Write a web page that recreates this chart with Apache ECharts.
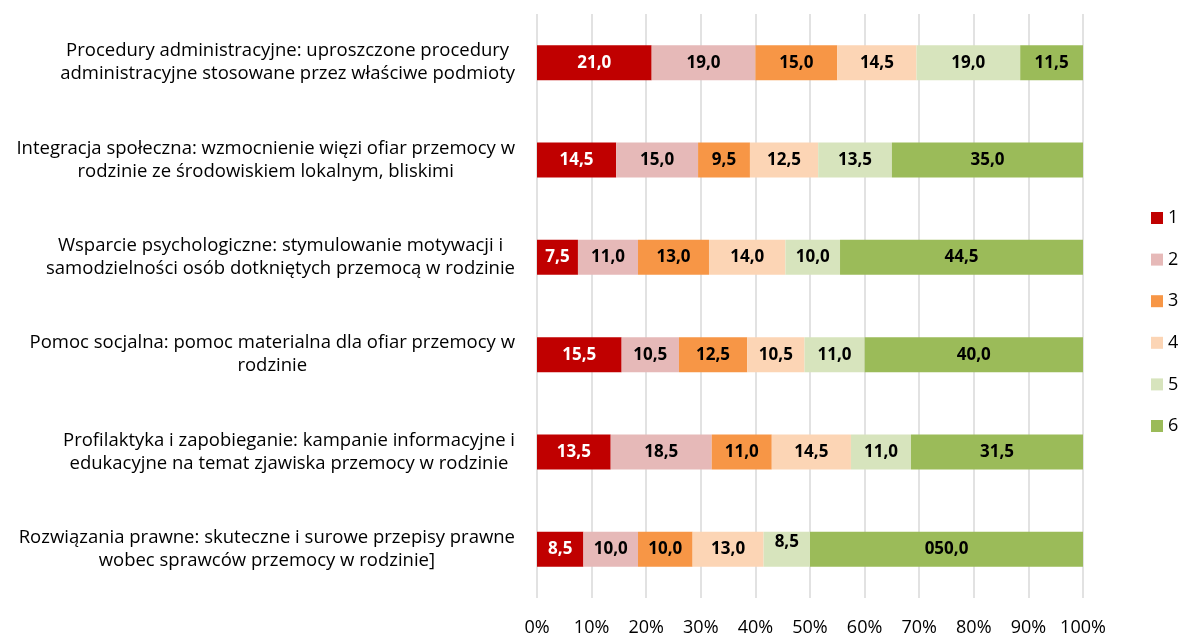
<!DOCTYPE html>
<html>
<head>
<meta charset="utf-8">
<script src="https://cdn.jsdelivr.net/npm/echarts@6/dist/echarts.min.js"></script>
<style>
  html, body { margin: 0; padding: 0; background: #fff; }
  #chart { width: 1180px; height: 637px; }
</style>
</head>
<body>
<div id="chart"></div>
<script>
// Survey items, top to bottom
const categories = [
  'Procedury administracyjne: uproszczone procedury\nadministracyjne stosowane przez właściwe podmioty',
  'Integracja społeczna: wzmocnienie więzi ofiar przemocy w\nrodzinie ze środowiskiem lokalnym, bliskimi',
  'Wsparcie psychologiczne: stymulowanie motywacji i\nsamodzielności osób dotkniętych przemocą w rodzinie',
  'Pomoc socjalna: pomoc materialna dla ofiar przemocy w\nrodzinie',
  'Profilaktyka i zapobieganie: kampanie informacyjne i\nedukacyjne na temat zjawiska przemocy w rodzinie',
  'Rozwiązania prawne: skuteczne i surowe przepisy prawne\nwobec sprawców przemocy w rodzinie]'
];

// Share of answers (%) for each rating, one array per rating
const rating1 = [21.0, 14.5, 7.5, 15.5, 13.5, 8.5];
const rating2 = [19.0, 15.0, 11.0, 10.5, 18.5, 10.0];
const rating3 = [15.0, 9.5, 13.0, 12.5, 11.0, 10.0];
const rating4 = [14.5, 12.5, 14.0, 10.5, 14.5, 13.0];
const rating5 = [19.0, 13.5, 10.0, 11.0, 11.0, 8.5];
const rating6 = [11.5, 35.0, 44.5, 40.0, 31.5, 50.0];

const seriesNames = ['1', '2', '3', '4', '5', '6'];
const xTicks = [0, 10, 20, 30, 40, 50, 60, 70, 80, 90, 100];

// Label text as printed on the last bar of the bottom row
const labelTextOverrides = { '5-5': '050,0' };

const colors = ['#C00000', '#E6B9B8', '#F79646', '#FCD5B5', '#D7E4BD', '#9BBB59'];
const values = [rating1, rating2, rating3, rating4, rating5, rating6];

const FONT = '"Open Sans", Lato, "Liberation Sans", sans-serif';

const series = values.map((arr, si) => ({
  name: seriesNames[si],
  type: 'bar',
  stack: 'total',
  barWidth: 35,
  itemStyle: { color: colors[si] },
  data: arr.map((v, ci) => {
    const item = { value: v };
    // the small "8,5" segment on the bottom row has its label lifted
    if (si === 4 && ci === 5) item.label = { offset: [0, -7] };
    return item;
  }),
  label: {
    show: true,
    position: 'inside',
    fontFamily: FONT,
    fontWeight: 'bold',
    fontSize: 17,
    color: si === 0 ? '#FFFFFF' : '#000000',
    formatter: p => labelTextOverrides[si + '-' + p.dataIndex] ||
      p.value.toFixed(1).replace('.', ',')
  }
}));

const chart = echarts.init(document.getElementById('chart'), null, { renderer: 'canvas' });
chart.setOption({
  animation: false,
  backgroundColor: '#FFFFFF',
  grid: { left: 537, right: 97, top: 14, bottom: 37, containLabel: false },
  legend: {
    orient: 'vertical',
    left: 1146,
    top: 204,
    icon: 'rect',
    itemWidth: 12,
    itemHeight: 12,
    itemGap: 23.6,
    textStyle: { fontFamily: FONT, fontSize: 18, lineHeight: 18, color: '#000' },
    data: seriesNames
  },
  xAxis: {
    type: 'value',
    min: xTicks[0],
    max: xTicks[xTicks.length - 1],
    interval: 10,
    axisLine: { show: false },
    axisTick: { show: false },
    splitLine: { show: true, lineStyle: { color: '#D9D9D9', width: 1.5 } },
    axisLabel: {
      margin: 21,
      fontFamily: FONT,
      fontSize: 18,
      color: '#000',
      formatter: '{value}%'
    }
  },
  yAxis: {
    type: 'category',
    inverse: true,
    data: categories,
    axisLine: { show: false },
    axisTick: { show: false },
    axisLabel: {
      margin: 22,
      color: '#000',
      formatter: v => v.split('\n').map(l => '{a|' + l + '}').join('\n'),
      rich: {
        a: { fontFamily: FONT, fontSize: 18.5, lineHeight: 23, align: 'center', color: '#000' }
      }
    }
  },
  series: series
});
</script>
</body>
</html>
